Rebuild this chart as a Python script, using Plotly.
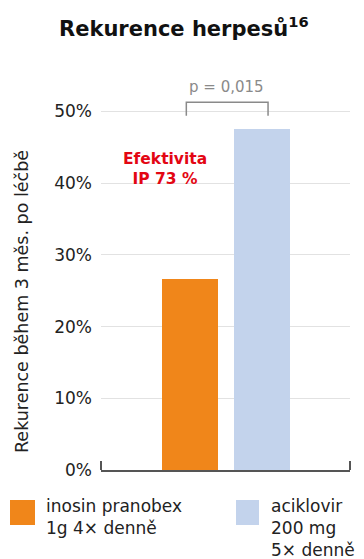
import plotly.graph_objects as go

categories = ["inosin pranobex", "aciklovir"]
values = [26.7, 47.5]
colors = ["#F0861A", "#C3D3EC"]
legend_labels = ["inosin pranobex<br>1g 4× denně", "aciklovir<br>200 mg<br>5× denně"]
tick_vals = [0, 10, 20, 30, 40, 50]
tick_text = ["0%", "10%", "20%", "30%", "40%", "50%"]
title_text = "<b>Rekurence herpesů</b><sup><b>16</b></sup>"
y_title = "Rekurence během 3 měs. po léčbě"
p_text = "p = 0,015"
eff_text = "<b>Efektivita<br>IP 73 %</b>"

FONT = "DejaVu Sans"
W, H = 364, 559
L, R, T, B = 101, 14, 90, 89
pw, ph = W - L - R, H - T - B

def px_x(x):
    return (x - L) / pw

def px_y(y):
    return (H - B - y) / ph

fig = go.Figure()
fig.add_trace(go.Bar(
    x=categories, y=values, marker=dict(color=colors, line=dict(width=0)),
    width=0.78, showlegend=False, hoverinfo="skip"))

shapes = []
# bracket over bars
shapes.append(dict(type="path", xref="x", yref="y",
                   path="M -0.05,49.4 L -0.05,51.3 L 1.09,51.3 L 1.09,49.4",
                   line=dict(color="#8a8a8a", width=1.5)))
# end ticks of the bottom axis
for xp in (0, 1):
    shapes.append(dict(type="line", xref="paper", yref="paper",
                       x0=xp, x1=xp, y0=0, y1=0.024,
                       line=dict(color="#555555", width=2)))
# legend squares
shapes.append(dict(type="rect", xref="paper", yref="paper",
                   x0=px_x(10), x1=px_x(35), y0=px_y(525), y1=px_y(500),
                   fillcolor=colors[0], line=dict(width=0)))
shapes.append(dict(type="rect", xref="paper", yref="paper",
                   x0=px_x(236), x1=px_x(259), y0=px_y(525), y1=px_y(500),
                   fillcolor=colors[1], line=dict(width=0)))

annotations = [
    dict(text=title_text, xref="paper", yref="paper", x=px_x(184), y=px_y(27),
         xanchor="center", yanchor="middle", showarrow=False,
         font=dict(family=FONT, size=21, color="#111111")),
    dict(text=p_text, xref="paper", yref="paper", x=px_x(226), y=px_y(87),
         xanchor="center", yanchor="middle", showarrow=False,
         font=dict(family=FONT, size=15, color="#8a8a8a")),
    dict(text=eff_text, xref="paper", yref="paper", x=px_x(165), y=px_y(169),
         xanchor="center", yanchor="middle", showarrow=False,
         font=dict(family=FONT, size=15.5, color="#E30613")),
    dict(text=y_title, xref="paper", yref="paper", x=px_x(22), y=px_y(302),
         xanchor="center", yanchor="middle", showarrow=False, textangle=-90,
         font=dict(family=FONT, size=17.5, color="#222222")),
    dict(text=legend_labels[0], xref="paper", yref="paper", x=px_x(44), y=px_y(494),
         xanchor="left", yanchor="top", align="left", showarrow=False,
         font=dict(family=FONT, size=17, color="#222222")),
    dict(text=legend_labels[1], xref="paper", yref="paper", x=px_x(269), y=px_y(494),
         xanchor="left", yanchor="top", align="left", showarrow=False,
         font=dict(family=FONT, size=17, color="#222222")),
]

fig.update_layout(
    width=W, height=H,
    margin=dict(l=L, r=R, t=T, b=B, pad=0),
    paper_bgcolor="white", plot_bgcolor="white",
    shapes=shapes, annotations=annotations,
    bargap=0,
    xaxis=dict(type="category", range=[-1.24, 2.233], showticklabels=False,
               showgrid=False, zeroline=False, showline=True,
               linecolor="#555555", linewidth=2, ticks="", fixedrange=True),
    yaxis=dict(range=[0, 53], tickmode="array", tickvals=tick_vals, ticktext=tick_text,
               showgrid=True, gridcolor="#e2e2e2", gridwidth=1,
               zeroline=False, showline=False, ticks="", ticklabelstandoff=8,
               tickfont=dict(family=FONT, size=17, color="#222222"),
               fixedrange=True),
)

fig.write_html("out.html")
